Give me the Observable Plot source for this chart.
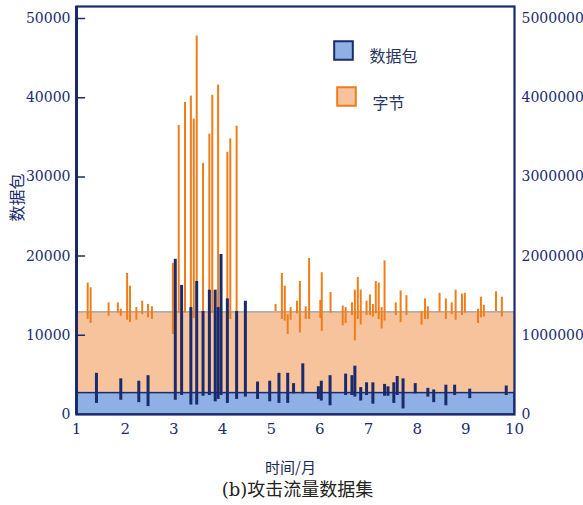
<!DOCTYPE html>
<html><head><meta charset="utf-8">
<script src="https://cdn.jsdelivr.net/npm/d3@7"></script>
<script src="https://cdn.jsdelivr.net/npm/@observablehq/plot@0.6"></script>
<style>
body{margin:0;background:#fff}
#chart{width:583px;height:505px}
#chart svg text{font-family:"DejaVu Serif","Noto Sans CJK SC",serif !important;}
#chart svg g.cjk text{font-family:"Noto Sans CJK SC",sans-serif !important;}
</style>
</head><body><div id="chart"></div>
<script>
// 字节 (bytes) spikes: month, low, high (bytes, right axis)
const byteMonths = [1.23,1.29,1.66,1.85,1.91,2.04,2.10,2.23,2.35,2.47,2.55,2.98,3.10,3.23,3.35,3.41,3.47,3.60,3.73,3.79,3.91,4.10,4.16,4.29,5.09,5.22,5.28,5.34,5.40,5.53,5.59,5.71,5.78,6.01,6.04,6.22,6.47,6.53,6.66,6.72,6.78,6.84,6.96,7.03,7.09,7.15,7.21,7.27,7.33,7.56,7.66,7.78,8.09,8.16,8.22,8.46,8.59,8.71,8.79,8.92,8.98,9.25,9.31,9.37,9.62,9.74];
const byteLow = [1200000,1150000,1240000,1280000,1240000,1190000,1160000,1190000,1260000,1220000,1200000,1010000,1280000,1280000,1290000,1210000,1250000,1290000,1280000,1280000,1260000,1280000,1200000,1290000,1300000,1200000,1180000,1010000,1190000,1270000,1030000,1200000,1200000,1210000,1050000,1280000,1120000,1150000,1250000,930000,1200000,1130000,1250000,1250000,1230000,1270000,1200000,1080000,1180000,1250000,1160000,1250000,1130000,1200000,1200000,1290000,1200000,1260000,1190000,1250000,1280000,1150000,1220000,1230000,1300000,1230000];
const byteHigh = [1660000,1600000,1410000,1410000,1330000,1780000,1620000,1350000,1430000,1390000,1360000,1910000,3650000,3940000,4020000,3730000,4780000,3170000,3540000,4030000,4160000,3310000,3480000,3640000,1390000,1780000,1620000,1260000,1350000,1430000,1680000,1360000,1970000,1440000,1790000,1540000,1370000,1350000,1410000,1570000,1730000,1570000,1430000,1510000,1390000,1680000,1660000,1350000,1940000,1410000,1560000,1500000,1300000,1460000,1360000,1530000,1460000,1410000,1570000,1520000,1530000,1330000,1480000,1380000,1550000,1480000];

// 数据包 (packets) spikes: month, low, high (packets, left axis)
const packetMonths = [1.41,1.91,2.28,2.47,3.03,3.16,3.35,3.47,3.60,3.73,3.85,3.91,3.97,4.10,4.29,4.47,4.72,4.97,5.16,5.34,5.46,5.65,5.97,6.03,6.21,6.53,6.66,6.72,6.84,6.96,7.09,7.33,7.40,7.52,7.59,7.71,7.96,8.22,8.34,8.59,8.77,9.08,9.83];
const packetLow = [1400,1800,1500,1000,1800,2400,1200,1200,2300,2400,1600,1900,2400,1400,1900,2200,1900,1600,1400,1400,2600,2600,1900,1700,1100,2400,2400,2200,1700,2400,1300,2300,2300,1400,2400,700,2600,2200,1500,1100,2400,2000,2400];
const packetHigh = [5200,4500,4200,4900,19600,16300,13500,16800,13000,15700,15700,13500,20200,14600,13000,14300,4100,4200,5200,5200,3900,6400,3500,4200,4900,5100,4900,6100,3400,4000,4000,3800,3500,4000,4800,4500,3900,3300,3100,3700,3700,3200,3600];

// baseline levels
const packetBase = 2700;      // packets
const byteBase = 1290000;     // bytes

const xTicks = [1,2,3,4,5,6,7,8,9,10];
const yTicks = [0,10000,20000,30000,40000,50000];
const byteRatio = 100; // right axis = left axis × 100

const NAVY = "#1a2b6d", ORANGE = "#f07d1a", ORF = "#f7c39c", BLUEF = "#8fb0e4", GRAY = "#a8a8a8";

const bytes = byteMonths.map((m,i)=>({m, lo: byteLow[i]/byteRatio, hi: byteHigh[i]/byteRatio}));
const packets = packetMonths.map((m,i)=>({m, lo: packetLow[i], hi: packetHigh[i]}));

const tickShape = {draw(context, l) { context.moveTo(0, 0); context.lineTo(0, -l); }};

const chart = Plot.plot({
  width: 583, height: 505,
  marginLeft: 76, marginRight: 69, marginTop: 6, marginBottom: 91,
  x: {domain: [1,10]},
  y: {domain: [0, 51515]},
  style: {fontSize: "14px", color: NAVY, background: "#fff"},
  marks: [
    Plot.rect([byteBase], {y1: 0, y2: d => d/byteRatio, fill: ORF, stroke: GRAY, strokeWidth: 1.5}),
    Plot.ruleX(bytes, {x: "m", y1: "lo", y2: "hi", stroke: ORANGE, strokeWidth: 2}),
    Plot.rect([packetBase], {y1: 0, y2: d => d, fill: BLUEF, stroke: NAVY, strokeWidth: 1.5}),
    Plot.ruleX(packets, {x: "m", y1: "lo", y2: "hi", stroke: NAVY, strokeWidth: 3}),
    Plot.frame({stroke: NAVY, strokeWidth: 2.2}),
    Plot.ruleX([1], {x: d => d, stroke: NAVY, strokeWidth: 3}),
    Plot.vector(yTicks.slice(1), {y: d => d, frameAnchor: "left", length: 8, rotate: 90, anchor: "start", shape: tickShape, stroke: NAVY, strokeWidth: 1.5}),
    Plot.axisY({anchor: "left", ticks: yTicks, tickSize: 0, tickPadding: 6, label: null, tickFormat: d => String(d), fill: NAVY, fontSize: 14, letterSpacing: -0.5}),
    Plot.axisY({anchor: "right", ticks: yTicks, tickSize: 0, tickPadding: 7, label: null, tickFormat: d => String(d*byteRatio), fill: NAVY, fontSize: 14, letterSpacing: -0.6}),
    Plot.axisX({ticks: xTicks, tickSize: 0, tickPadding: 9, label: null, tickFormat: d => String(d), fill: NAVY, fontSize: 15, letterSpacing: -0.5}),
    Plot.text(["数据包"], {text: d => d, frameAnchor: "left", dx: -59, dy: 11, rotate: -90, fontSize: 16, fill: NAVY, className: "cjk"}),
    Plot.text(["时间/月"], {text: d => d, frameAnchor: "bottom", dx: -5, dy: 58, fontSize: 15, fill: "#1d2a50", className: "cjk"}),
    Plot.text(["(b)攻击流量数据集"], {text: d => d, frameAnchor: "bottom", dx: 2, dy: 81, fontSize: 18, fill: "#222", letterSpacing: 4.3}),
    Plot.dot([0], {frameAnchor: "top-left", dx: 267, dy: 44, symbol: "square", r: 10.5, fill: BLUEF, stroke: NAVY, strokeWidth: 2}),
    Plot.dot([0], {frameAnchor: "top-left", dx: 270, dy: 90, symbol: "square", r: 10.5, fill: ORF, stroke: ORANGE, strokeWidth: 2}),
    Plot.text(["数据包"], {text: d => d, frameAnchor: "top-left", dx: 293, dy: 44, textAnchor: "start", fontSize: 16, fill: "#2a3560", className: "cjk"}),
    Plot.text(["字节"], {text: d => d, frameAnchor: "top-left", dx: 296, dy: 91, textAnchor: "start", fontSize: 16, fill: "#2a3560", className: "cjk"})
  ]
});
document.getElementById("chart").appendChild(chart);
</script></body></html>
